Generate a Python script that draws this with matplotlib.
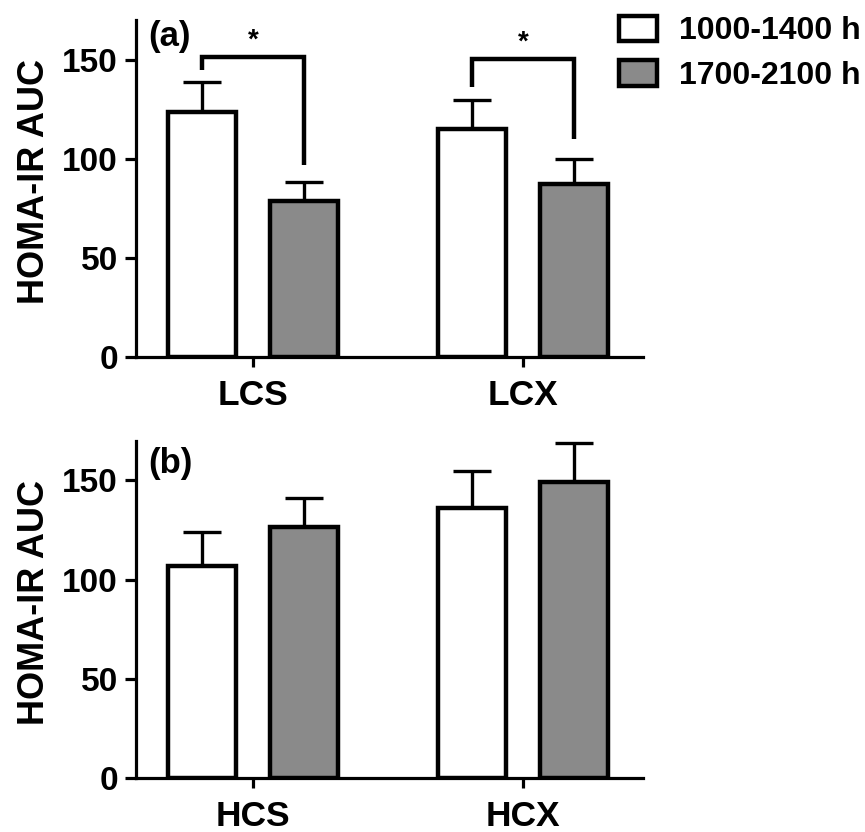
import matplotlib
matplotlib.use("Agg")
import matplotlib.pyplot as plt
import numpy as np

plt.rcParams['font.family'] = ['Liberation Sans', 'DejaVu Sans']
plt.rcParams['font.weight'] = 'bold'

series_names = ["1000-1400 h", "1700-2100 h"]
colors = ["#ffffff", "#8a8a8a"]

cats_a = ["LCS", "LCX"]
morning_a = [123.5, 115.0]
morning_a_err = [15.0, 14.8]
evening_a = [78.5, 87.5]
evening_a_err = [9.8, 12.5]

cats_b = ["HCS", "HCX"]
morning_b = [107.0, 136.2]
morning_b_err = [17.0, 18.8]
evening_b = [126.8, 149.2]
evening_b_err = [14.2, 19.8]

# significance brackets for panel (a): bar height (y), left leg bottom, right leg bottom
sig_y = [151.5, 150.3]
sig_left = [145.0, 136.0]
sig_right = [96.6, 110.0]

fig = plt.figure(figsize=(8.65, 8.32), dpi=100)
ax_a = fig.add_axes([0.1572, 0.5709, 0.5862, 0.4051])
ax_b = fig.add_axes([0.1572, 0.0645, 0.5862, 0.4058])

width = 0.252
off = 0.189

def draw(ax, cats, m, me, e, ee, label, label_y):
    x = np.arange(len(cats))
    ax.bar(x - off, m, width, color=colors[0], edgecolor='black', linewidth=3.2, zorder=3, label=series_names[0])
    ax.bar(x + off, e, width, color=colors[1], edgecolor='black', linewidth=3.2, zorder=3, label=series_names[1])
    ax.errorbar(x - off, m, yerr=[np.zeros(len(m)), me], fmt='none', ecolor='black', elinewidth=2.4, capsize=13.5, capthick=2.4, zorder=2)
    ax.errorbar(x + off, e, yerr=[np.zeros(len(e)), ee], fmt='none', ecolor='black', elinewidth=2.4, capsize=13.5, capthick=2.4, zorder=2)
    ax.set_xlim(-0.435, 1.445)
    ax.set_ylim(0, 170)
    ax.set_yticks([0, 50, 100, 150])
    ax.set_xticks(x)
    ax.set_xticklabels(cats)
    for s in ['top', 'right']:
        ax.spines[s].set_visible(False)
    for s in ['left', 'bottom']:
        ax.spines[s].set_linewidth(2.3)
    ax.tick_params(axis='y', length=8, width=2.3, labelsize=24, pad=5)
    ax.tick_params(axis='x', length=7, width=2.3, labelsize=25.5, pad=8.5)
    for t in ax.get_xticklabels() + ax.get_yticklabels():
        t.set_fontweight('bold')
    ax.set_ylabel("HOMA-IR AUC", fontsize=26, fontweight='bold')
    ax.yaxis.set_label_coords(-0.166, 0.52)
    ax.text(0.0237, label_y, label, transform=ax.transAxes, fontsize=25, fontweight='bold', va='top', ha='left')
    return x

xa = draw(ax_a, cats_a, morning_a, morning_a_err, evening_a, evening_a_err, "(a)", 1.0)
draw(ax_b, cats_b, morning_b, morning_b_err, evening_b, evening_b_err, "(b)", 0.98)

for i in range(len(cats_a)):
    xl, xr = xa[i] - off, xa[i] + off
    ax_a.plot([xl, xl, xr, xr], [sig_left[i], sig_y[i], sig_y[i], sig_right[i]], color='black', linewidth=3.2, solid_joinstyle='miter', solid_capstyle='butt', zorder=4)
    ax_a.text(xa[i], sig_y[i] + 1.5, "*", ha='center', va='bottom', fontsize=20, fontweight='bold')

handles, labels = ax_a.get_legend_handles_labels()
leg = fig.legend(handles, labels, loc='upper left', bbox_to_anchor=(0.7156, 0.9813), frameon=False,
                 borderpad=0, borderaxespad=0,
                 prop={'size': 23, 'weight': 'bold'}, handlelength=1.19, handleheight=0.85, handletextpad=0.69, labelspacing=0.44)

fig.savefig("out.png", dpi=100)
